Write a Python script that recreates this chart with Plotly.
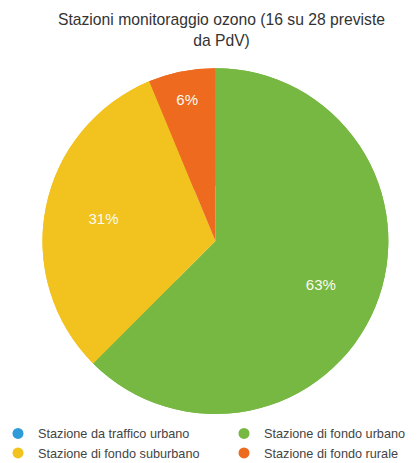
import plotly.graph_objects as go

categories = ["Stazione da traffico urbano", "Stazione di fondo urbano",
              "Stazione di fondo suburbano", "Stazione di fondo rurale"]
station_counts = [0, 10, 5, 1]
colors = ["#2f9bd8", "#77b843", "#f2c21e", "#ee6a1e"]

total = sum(station_counts)
labels_text = [f"{int(v / total * 100 + 0.5)}%" if v > 0 else "" for v in station_counts]

pie_domain = dict(x=[0.0825, 0.9123], y=[0.123, 0.870])

fig = go.Figure()
# full pie underneath (colour fill)
fig.add_trace(go.Pie(
    labels=categories, values=station_counts,
    textinfo="none", sort=False, direction="clockwise", rotation=0,
    marker=dict(colors=colors, line=dict(width=0)),
    showlegend=False, domain=pie_domain, hoverinfo="skip",
))
# ring on top carrying the percentage labels
fig.add_trace(go.Pie(
    labels=categories, values=station_counts, hole=0.32,
    text=labels_text, textinfo="text", textposition="inside",
    insidetextorientation="horizontal",
    sort=False, direction="clockwise", rotation=0,
    marker=dict(colors=colors, line=dict(width=0)),
    textfont=dict(color="#fbfbf0", size=15, family="Liberation Sans, Arial"),
    showlegend=False, domain=pie_domain, hoverinfo="label+percent",
))

order = [0, 2, 1, 3]
for i in order:
    fig.add_trace(go.Scatter(
        x=[None], y=[None], mode="markers", name=categories[i],
        marker=dict(color=colors[i], size=11, symbol="circle"),
        showlegend=True, legend="legend" if i in (0, 2) else "legend2",
    ))

legend_font = dict(size=12.7, color="#444444", family="Liberation Sans, Arial")
fig.update_layout(
    width=417, height=463,
    margin=dict(l=0, r=0, t=0, b=0, autoexpand=False),
    paper_bgcolor="white", plot_bgcolor="white",
    title=dict(
        text="Stazioni monitoraggio ozono (16 su 28 previste<br>da PdV)",
        x=0.512, xanchor="center", y=0.963, yanchor="top",
        font=dict(size=15.7, color="#333333", family="Liberation Sans, Arial"),
    ),
    xaxis=dict(visible=False), yaxis=dict(visible=False),
    legend=dict(orientation="v", x=-0.024, xanchor="left", y=0.113, yanchor="top",
                font=legend_font, bgcolor="rgba(0,0,0,0)"),
    legend2=dict(orientation="v", x=0.518, xanchor="left", y=0.113, yanchor="top",
                 font=legend_font, bgcolor="rgba(0,0,0,0)"),
)

fig.write_html("out.html")
